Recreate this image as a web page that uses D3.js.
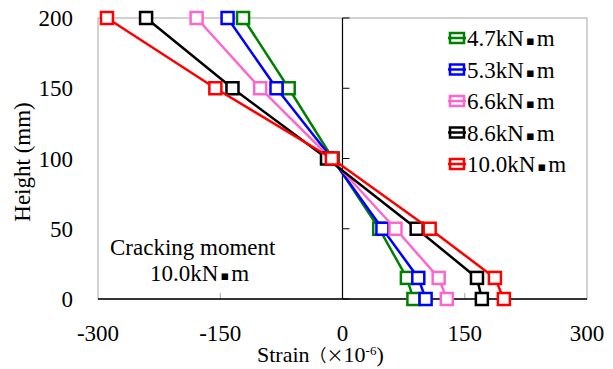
<!DOCTYPE html>
<html>
<head>
<meta charset="utf-8">
<script src="https://cdn.jsdelivr.net/npm/d3@7"></script>
<style>
  body { margin: 0; background: #fff; }
  text { font-family: "Liberation Serif", "Times New Roman", serif; fill: #000; }
</style>
</head>
<body>
<svg width="613" height="369"></svg>
<script>
// heights of the gauges (mm)
const heights = [200, 150, 100, 50, 15, 0];

// strain per load level, same order as heights (x10^-6)
const series_names  = ["4.7kN", "5.3kN", "6.6kN", "8.6kN", "10.0kN"];
const series_colors = ["#008000", "#0000ff", "#ff66cc", "#000000", "#ff0000"];
const strain_47  = [-122, -66, -12, 45, 79, 87];
const strain_53  = [-141, -81, -13, 49, 93, 102];
const strain_66  = [-179, -101, -14, 65, 118, 128];
const strain_86  = [-241, -135, -19, 91, 165, 171];
const strain_100 = [-289, -156, -13, 107, 187, 198];
const all_strains = [strain_47, strain_53, strain_66, strain_86, strain_100];

const x_ticks = [-300, -150, 0, 150, 300];
const y_ticks = [0, 50, 100, 150, 200];

const svg    = d3.select("svg");
const margin = {left: 98, top: 18, right: 26, bottom: 70};
const width  = 613;
const height = 369;

const x = d3.scaleLinear().domain([-300, 300]).range([margin.left, width - margin.right]);
const y = d3.scaleLinear().domain([0, 200]).range([height - margin.bottom, margin.top]);

const border_col = "#a6a6a6";
const fs = 23;

// "kN・m" with a small square dot
function unitText(sel, prefix) {
  sel.append("tspan").text(prefix);
  sel.append("tspan")
    .attr("font-family", "DejaVu Sans")
    .attr("font-size", 13)
    .attr("dx", 2).attr("dy", -1)
    .text("▪");
  sel.append("tspan").attr("dx", 2).attr("dy", 1).text("m");
}

// plot frame (gray)
svg.append("rect")
  .attr("x", x(-300)).attr("y", y(200))
  .attr("width", x(300) - x(-300)).attr("height", y(0) - y(200))
  .attr("fill", "none").attr("stroke", border_col).attr("stroke-width", 1);

// x ticks on bottom
svg.selectAll("line.xtick")
  .data(x_ticks.filter(d => d !== 0 && Math.abs(d) !== 300))
  .enter().append("line")
  .attr("x1", d => x(d)).attr("x2", d => x(d))
  .attr("y1", y(0)).attr("y2", y(0) - 6)
  .attr("stroke", border_col);

// y ticks on the zero line
svg.selectAll("line.ytick")
  .data(y_ticks)
  .enter().append("line")
  .attr("x1", x(0)).attr("x2", x(0) + 7)
  .attr("y1", d => y(d)).attr("y2", d => y(d))
  .attr("stroke", "#000");

// axis lines
svg.append("line")
  .attr("x1", x(-300)).attr("x2", x(300))
  .attr("y1", y(0)).attr("y2", y(0))
  .attr("stroke", "#000").attr("stroke-width", 1.5);
svg.append("line")
  .attr("x1", x(0)).attr("x2", x(0))
  .attr("y1", y(0)).attr("y2", y(200))
  .attr("stroke", "#000").attr("stroke-width", 1.2);

// tick labels
svg.selectAll("text.xlab")
  .data(x_ticks)
  .enter().append("text")
  .attr("x", d => x(d)).attr("y", 341)
  .attr("text-anchor", "middle")
  .attr("font-size", fs)
  .text(d => d);

svg.selectAll("text.ylab")
  .data(y_ticks)
  .enter().append("text")
  .attr("x", 73).attr("y", d => y(d) + 8)
  .attr("text-anchor", "end")
  .attr("font-size", fs)
  .text(d => d);

// axis titles
const xt = svg.append("text")
  .attr("x", 257).attr("y", 362)
  .attr("font-size", 22);
xt.append("tspan").text("Strain");
xt.append("tspan").attr("font-family", "Noto Sans CJK JP").attr("font-size", 17).text("（×");
xt.append("tspan").text("10");
xt.append("tspan").attr("font-size", 13).attr("dy", -7).text("-6");
xt.append("tspan").attr("dy", 7).text(")");

svg.append("text")
  .attr("transform", "translate(30,162) rotate(-90)")
  .attr("text-anchor", "middle")
  .attr("font-size", fs)
  .text("Height (mm)");

// lines and markers
const line = d3.line()
  .x(d => x(d.strain))
  .y(d => y(d.h));

const series = series_names.map((name, i) => ({
  name: name,
  color: series_colors[i],
  points: heights.map((h, j) => ({h: h, strain: all_strains[i][j]}))
}));

const g = svg.selectAll("g.series")
  .data(series)
  .enter().append("g")
  .attr("class", "series");

g.append("path")
  .attr("d", d => line(d.points))
  .attr("fill", "none")
  .attr("stroke", d => d.color)
  .attr("stroke-width", 2.5);

const ms = 12;
g.selectAll("rect")
  .data(d => d.points.map(p => Object.assign({color: d.color}, p)))
  .enter().append("rect")
  .attr("x", d => x(d.strain) - ms / 2)
  .attr("y", d => y(d.h) - ms / 2)
  .attr("width", ms).attr("height", ms)
  .attr("fill", "#fff")
  .attr("stroke", d => d.color)
  .attr("stroke-width", 2.5);

// legend
const legend = svg.selectAll("g.legend")
  .data(series)
  .enter().append("g")
  .attr("transform", (d, i) => "translate(457," + (38 + i * 31.5) + ")");

legend.append("rect")
  .attr("x", -7).attr("y", -5).attr("width", 14).attr("height", 10)
  .attr("fill", "#fff")
  .attr("stroke", d => d.color).attr("stroke-width", 2.5);
legend.append("line")
  .attr("x1", -9).attr("x2", 9)
  .attr("stroke", d => d.color).attr("stroke-width", 2.5);
legend.append("text")
  .attr("x", 10).attr("y", 8)
  .attr("font-size", fs)
  .each(function(d) { unitText(d3.select(this), d.name); });

// annotation
svg.append("text")
  .attr("x", 110).attr("y", 255)
  .attr("font-size", fs)
  .text("Cracking moment");
svg.append("text")
  .attr("x", 150).attr("y", 281)
  .attr("font-size", fs)
  .call(unitText, "10.0kN");
</script>
</body>
</html>
